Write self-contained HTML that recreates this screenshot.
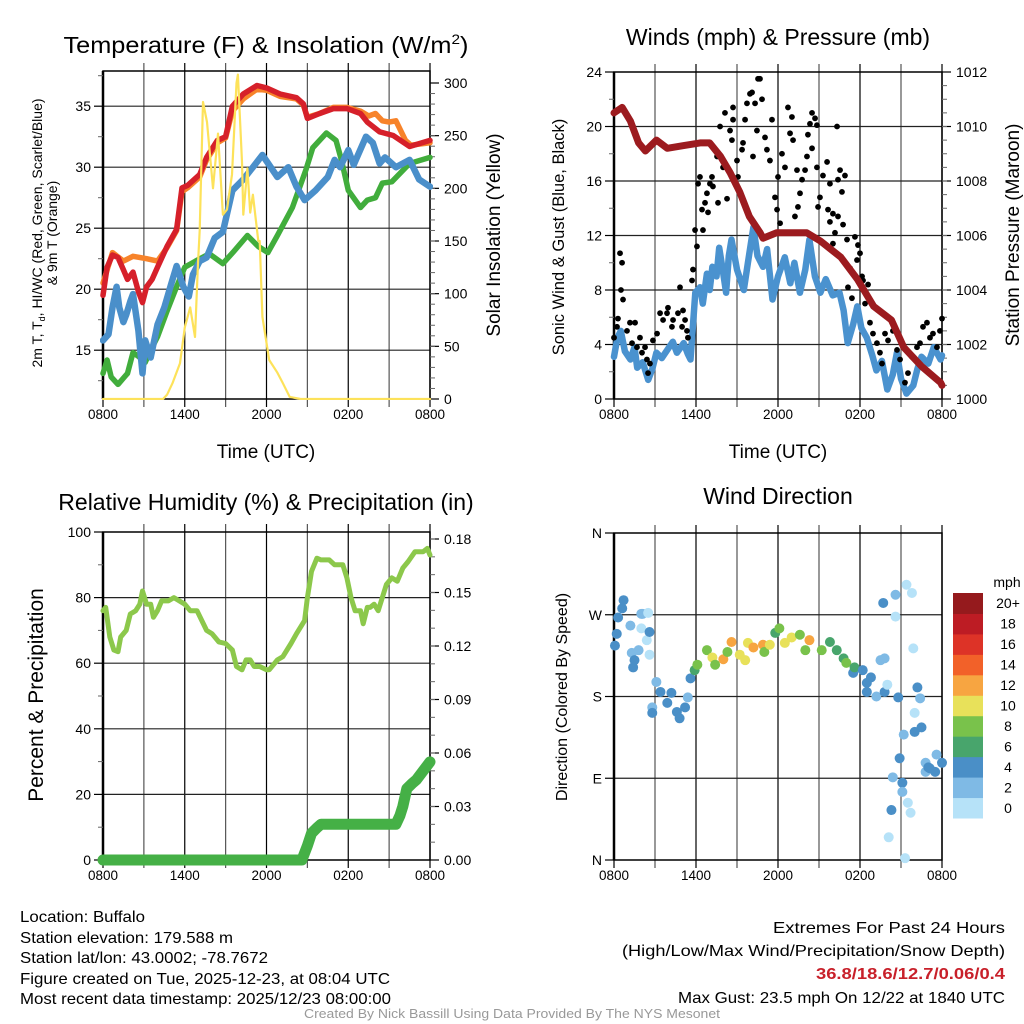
<!DOCTYPE html>
<html><head><meta charset="utf-8"><style>
html,body{margin:0;padding:0;background:#fff;}
svg{display:block;font-family:"Liberation Sans",sans-serif;}
.n{font-family:"Liberation Sans Narrow","Liberation Sans",sans-serif;}
</style></head><body>
<svg id="fig" width="1024" height="1024" viewBox="0 0 1024 1024" xmlns="http://www.w3.org/2000/svg">
<rect width="1024" height="1024" fill="#fff"/>
<g id="p1"></g>
<g id="p2"></g>
<g id="p3"></g>
<g id="p4"></g>
<text x="266" y="53" font-size="23" text-anchor="middle" textLength="405" lengthAdjust="spacingAndGlyphs">Temperature (F) &amp; Insolation (W/m<tspan font-size="14" dy="-9">2</tspan><tspan dy="9">)</tspan></text>
<text x="778" y="45" font-size="23" text-anchor="middle">Winds (mph) &amp; Pressure (mb)</text>
<text x="266" y="510" font-size="23" text-anchor="middle">Relative Humidity (%) &amp; Precipitation (in)</text>
<text x="778" y="504" font-size="23" text-anchor="middle">Wind Direction</text>
<text x="266" y="458" font-size="19" text-anchor="middle">Time (UTC)</text>
<text x="778" y="458" font-size="19" text-anchor="middle">Time (UTC)</text>
<text font-size="14" text-anchor="middle" transform="translate(42,233) rotate(-90)">2m T, T<tspan font-size="9" dy="3">d</tspan><tspan dy="-3">, HI/WC (Red, Green, Scarlet/Blue)</tspan></text>
<text font-size="14" text-anchor="middle" transform="translate(57,233) rotate(-90)">&amp; 9m T (Orange)</text>
<text font-size="19" text-anchor="middle" transform="translate(500,235) rotate(-90)">Solar Insolation (Yellow)</text>
<text font-size="16.5" text-anchor="middle" transform="translate(564,237) rotate(-90)">Sonic Wind &amp; Gust (Blue, Black)</text>
<text font-size="19" text-anchor="middle" transform="translate(1019,235) rotate(-90)">Station Pressure (Maroon)</text>
<text font-size="21" text-anchor="middle" transform="translate(43,695) rotate(-90)">Percent &amp; Precipitation</text>
<text font-size="16" text-anchor="middle" transform="translate(567,697) rotate(-90)">Direction (Colored By Speed)</text>
<g class="n" font-size="16">
<text x="20" y="922" textLength="125" lengthAdjust="spacingAndGlyphs">Location: Buffalo</text>
<text x="20" y="943" textLength="213" lengthAdjust="spacingAndGlyphs">Station elevation: 179.588 m</text>
<text x="20" y="963" textLength="248" lengthAdjust="spacingAndGlyphs">Station lat/lon: 43.0002; -78.7672</text>
<text x="20" y="984" textLength="370" lengthAdjust="spacingAndGlyphs">Figure created on Tue, 2025-12-23, at 08:04 UTC</text>
<text x="20" y="1004" textLength="371" lengthAdjust="spacingAndGlyphs">Most recent data timestamp: 2025/12/23 08:00:00</text>
<text x="773" y="933" textLength="232" lengthAdjust="spacingAndGlyphs">Extremes For Past 24 Hours</text>
<text x="622" y="956" textLength="383" lengthAdjust="spacingAndGlyphs">(High/Low/Max Wind/Precipitation/Snow Depth)</text>
<text x="816" y="979" textLength="189" lengthAdjust="spacingAndGlyphs" fill="#c8202a" font-weight="bold">36.8/18.6/12.7/0.06/0.4</text>
<text x="678" y="1003" textLength="327" lengthAdjust="spacingAndGlyphs">Max Gust: 23.5 mph On 12/22 at 1840 UTC</text>
</g>
<text class="n" x="304" y="1018" font-size="13" fill="#999" textLength="416" lengthAdjust="spacingAndGlyphs">Created By Nick Bassill Using Data Provided By The NYS Mesonet</text>
</svg>
<script>
// ---------- data ----------
const xTickLabels = ["0800","1400","2000","0200","0800"];
const tempRedT = [0,0.3,0.7,1.1,1.5,1.8,2.2,2.6,2.9,3.2,3.6,4.0,4.7,5.4,5.8,6.2,7.1,7.6,8.4,9.0,9.5,10.3,11.3,12.0,13.0,14.2,14.7,15.0,15.9,16.9,17.9,18.9,19.4,20.3,21.3,22.5,24];
const tempRedV = [19.5,21.8,22.8,22.6,21.6,20.8,21.4,19.8,18.9,20.2,20.8,21.8,23.5,24.9,28.3,28.5,29.4,30.8,32.2,32.5,35.0,36.0,36.7,36.5,36.0,35.7,35.2,34.0,34.4,34.8,34.8,34.4,33.7,32.9,32.6,31.7,32.2];
const tempOrangeT = [0,0.7,1.5,2.2,3.2,4.0,4.7,5.4,5.8,6.2,7.1,7.6,8.4,9.0,9.5,10.3,11.3,12.0,13.0,14.2,14.7,15.0,15.9,16.9,17.9,18.9,19.5,20.0,20.5,21.0,21.5,22.2,22.6,24];
const tempOrangeV = [20.5,23.0,22.3,22.7,22.5,22.3,23.4,24.8,28.0,28.3,29.2,30.6,32.0,32.4,34.6,35.6,36.4,36.3,35.8,35.6,35.1,34.1,34.4,34.9,34.9,34.6,34.2,34.4,33.8,33.7,33.8,32.2,31.8,32.0];
const tempBlueT = [0,0.4,0.7,1.0,1.2,1.5,1.7,2.0,2.2,2.6,2.9,3.1,3.5,4.0,4.5,5.0,5.4,5.9,6.3,6.6,7.1,7.6,8.2,8.8,9.5,10.3,11.0,11.7,12.8,13.6,14.2,14.8,15.6,16.5,17.0,17.4,18.0,18.4,19.3,19.8,20.3,20.7,21.5,22.5,23.2,24];
const tempBlueV = [15.8,16.3,18.5,20.2,18.5,17.3,17.9,19.0,19.6,16.6,13.1,15.8,14.4,17.1,18.5,20.4,21.9,20.2,19.4,21.2,22.3,22.6,24.2,24.7,28.1,29.0,30.0,31.0,29.2,30.0,28.4,27.3,28.1,29.2,30.6,30.0,31.4,30.2,32.5,32.0,30.3,30.8,30.0,30.6,29.0,28.4];
const tempGreenT = [0,0.3,0.6,1.1,1.8,2.2,2.6,3.1,3.5,4.0,4.7,5.4,6.0,6.8,7.8,8.8,9.6,10.6,11.4,12.1,12.8,13.9,14.9,15.4,16.4,17.1,17.5,18.0,18.9,19.4,20.0,20.5,21.2,22.5,24];
const tempGreenV = [13.1,14.2,12.8,12.2,13.1,14.8,14.5,14.0,15.0,16.1,18.2,20.2,21.8,22.3,22.9,22.1,23.1,24.4,23.5,23.0,24.4,26.7,29.8,31.6,32.8,32.2,30.6,28.1,26.7,27.3,27.5,28.7,28.8,30.3,30.8];
const solarT = [0,4.4,4.7,5.1,5.65,6.0,6.4,6.75,6.97,7.1,7.34,7.63,8.07,8.44,8.8,9.1,9.47,9.8,9.9,10.2,10.3,10.6,10.8,11.0,11.4,11.5,11.7,12.2,12.8,13.2,13.7,14.5,24];
const solarV = [0,0,4,15,34,68,87,59,129,160,282,263,200,252,175,180,213,300,308,225,175,219,177,194,150,150,78,37,25,15,2,0,0];
const windT = [0,0.25,0.5,0.8,1.2,1.5,1.7,2.1,2.5,2.8,3.1,3.5,3.9,4.3,4.6,5.1,5.4,5.6,5.95,6.3,6.5,6.8,7.0,7.2,7.5,7.7,8.0,8.2,8.4,8.6,9.0,9.5,9.8,10.2,10.5,10.9,11.2,11.6,12.0,12.5,12.9,13.2,13.6,14.0,14.3,14.7,15.1,15.5,16.0,16.5,16.8,17.1,17.5,17.8,18.1,18.5,18.9,19.2,19.6,20.0,20.4,20.7,21.0,21.4,21.9,22.2,22.5,23.0,23.4,23.9,24];
const windV = [3.1,4.5,5.0,3.5,2.9,3.8,2.3,2.7,1.4,2.2,3.4,3.0,3.6,4.2,3.4,4.1,3.3,2.9,7.8,8.2,7.0,9.2,8.0,9.7,9.0,11.1,9.2,7.8,10.5,11.7,9.5,8.0,10.0,12.6,10.5,9.7,11.0,7.3,9.0,10.4,8.5,10.0,7.8,9.5,11.7,9.0,7.8,8.8,7.6,7.8,6.5,4.1,5.5,6.8,5.2,4.5,3.2,2.1,2.8,0.7,1.8,3.4,1.5,0.4,1.0,2.2,3.1,2.6,3.8,2.9,3.2];
const pressT = [0,0.6,1.2,1.8,2.3,3.1,3.9,5.1,6.3,7.0,7.8,8.5,9.2,9.9,10.7,10.9,11.9,14.1,15.1,16.6,17.8,19.0,20.3,21.2,22.5,23.9,24];
const pressV = [1010.5,1010.7,1010.2,1009.4,1009.1,1009.5,1009.2,1009.3,1009.4,1009.4,1008.9,1008.3,1007.6,1006.7,1006.1,1005.9,1006.1,1006.1,1005.8,1005.2,1004.4,1003.4,1002.9,1001.9,1001.2,1000.6,1000.5];
const gustT = [0,0.22,0.29,0.44,0.59,0.51,0.66,0.95,1.17,1.32,1.54,1.68,1.9,2.05,2.27,2.41,2.49,2.63,2.85,3.15,3.37,3.59,3.88,3.95,4.24,4.32,4.68,4.83,4.98,5.05,5.2,5.34,5.41,5.71,5.78,5.93,6.07,6.15,6.29,6.44,6.51,6.66,6.8,6.88,7.02,7.17,7.24,7.61,7.54,7.76,7.98,8.12,8.27,8.49,8.63,8.71,8.71,9,9.07,9.37,9.44,9.59,9.73,9.95,10.1,10.17,10.32,10.46,10.54,10.68,10.83,11.05,11.19,11.41,11.56,11.78,11.93,12,12.15,12.29,12.51,12.73,12.88,13.02,13.1,13.24,13.39,13.46,13.61,13.76,13.98,14.12,14.19,14.34,14.49,14.49,14.71,14.85,14.85,14.93,15.07,15.29,15.59,15.66,15.8,15.8,16.02,16.02,16.17,16.32,16.39,16.39,16.54,16.68,16.76,16.9,17.05,17.12,17.27,17.41,17.63,17.78,17.85,18,18.15,18.22,18.37,18.59,18.73,18.95,19.24,19.46,19.61,19.83,20.05,20.41,20.71,20.93,21.29,21.51,21.8,22.17,22.39,22.61,22.9,23.12,23.34,23.63,24,23.85];
const gustV = [4.5,5.3,5.9,10.7,10,8,7.3,5,5.6,4.1,5.6,3.8,4.5,3.4,3.8,2.9,1.9,2.6,4.3,4.8,6.3,5.8,6.3,6.7,5.3,5.8,6.3,8.2,5.3,6.5,5.8,5,4.5,8.7,9.5,12.4,11.2,15.8,16.3,13.9,12.4,14.4,15.1,13.7,15.8,16.3,15.6,14.4,17.8,20,17,21,14.7,19.7,19,21.4,20.5,17.5,16.3,18.3,18.8,20.5,21.7,22.4,22.5,17.8,21.7,19.7,23.5,23.5,22,19.2,18.3,17.5,20.5,14.8,13.9,16.3,12.9,18,17,21.4,19.5,20.7,19,13.4,16.8,14.1,15.1,16.1,16.8,17.8,19.4,20.2,21,18.4,20.6,20.1,17,14.1,14.8,16.4,17.4,13.9,15.8,13,13.6,11.4,12.2,20,13.4,16.1,16.8,15.2,12.8,16.4,11.7,8.2,9.6,7.4,11.9,10.2,11.3,10.7,9,8.7,7,8.4,5.6,4.8,4.1,3.4,2.6,4.8,4.3,5,3.6,2.9,1.2,1.9,3.1,3.8,4.1,5.3,5.6,4.5,4.8,3.8,5.9,5];
const rhT = [0,0.2,0.5,0.8,1.1,1.3,1.7,2,2.4,2.7,2.9,3.2,3.5,3.7,4,4.3,4.8,5.2,5.6,6,6.4,6.9,7.6,8,8.5,9,9.5,9.8,10.2,10.5,10.8,11.1,11.5,12,12.2,12.8,13.2,13.8,14.2,14.8,15,15.3,15.7,16,16.6,17,17.6,17.9,18.2,18.5,18.9,19.1,19.4,19.6,19.9,20.2,20.5,20.8,21.2,21.6,22,22.4,22.9,23.5,23.8,24];
const rhV = [76,77,68,64,63.5,68,70,75,76,78,82,78,78,74,76,79,79,80,79,78,76,76,70,69,66.5,66,64,59,58,61,61,59,59,58,58,61,62,66,69,73,80,88,92,91.5,91.5,90,90,86,80,76,76,72,77,77,78,76,80,84,86,85,89,91,94,94,95,93];
const precipT = [0,14.6,15.0,15.3,15.7,16.0,21.5,21.8,22.0,22.3,22.7,23.0,23.5,24];
const precipV = [0,0,0.008,0.015,0.018,0.02,0.02,0.025,0.03,0.04,0.043,0.045,0.05,0.055];
const rhTicks = [0,20,40,60,80,100];
const precipTicks = ["0.00","0.03","0.06","0.09","0.12","0.15","0.18"];
const dirT = [0.07,0.2,0.3,0.6,0.7,1.2,1.3,1.4,1.5,1.8,2.0,2.0,2.1,2.4,2.5,2.6,2.6,2.8,2.8,3.1,3.4,3.9,4.2,4.6,4.8,5.2,5.4,5.6,5.9,6.1,6.8,7.2,7.4,8.0,8.3,8.6,9.2,9.6,9.8,10.2,10.9,11.0,11.4,11.8,12.1,12.5,13.0,13.6,14.0,14.3,15.2,15.8,16.3,16.8,17.0,17.5,17.6,18.2,18.5,18.5,18.8,19.2,19.5,19.7,19.8,19.8,20.0,20.1,20.3,20.4,20.6,20.6,20.8,20.9,21.1,21.1,21.2,21.3,21.4,21.5,21.7,21.8,21.9,22.0,22.0,22.2,22.4,22.5,22.8,22.8,23.0,23.1,23.5,23.6,24.0];
const dirV = [236,249,267,277,286,258,228,212,220,231,255,271,271,242,272,251,226,168,162,196,185,173,184,163,156,168,179,200,209,215,231,223,215,221,229,240,226,220,239,234,237,229,237,250,255,239,245,248,231,242,231,240,231,222,217,206,212,209,195,185,201,180,220,283,185,222,193,25,55,91,292,268,179,112,85,75,138,2,303,63,52,294,233,162,141,190,178,146,107,97,102,101,97,116,107];
const dirSpd = [4,4,4,4,4,2,2,4,4,2,0,2,2,0,0,4,0,2,4,2,4,4,4,4,4,4,2,4,6,8,8,10,8,12,8,12,10,10,10,12,12,8,10,6,8,10,10,8,8,12,8,6,6,6,8,4,6,4,4,4,4,2,2,4,4,2,0,0,4,2,2,0,4,4,4,2,2,0,0,0,0,0,0,0,4,4,2,4,2,2,4,4,4,2,4];
const speedBins = ["0","2","4","6","8","10","12","14","16","18","20+"];
const speedColors = ["#b6e2f8","#7fbae5","#4a8fc7","#48a56c","#79c24b","#e8e15a","#f7a541","#f26129","#dd3327","#bd1c24","#951a1d"];
const dirLabels = ["N","E","S","W","N"];

// ---------- helpers ----------
const NS="http://www.w3.org/2000/svg";
function mk(tag, attrs, parent){const e=document.createElementNS(NS,tag);for(const k in attrs)e.setAttribute(k,attrs[k]);parent.appendChild(e);return e;}
function lin(d0,d1,r0,r1){return v=>r0+(v-d0)*(r1-r0)/(d1-d0);}
function frame(g,x0,x1,yT,yB,hGrid,sy){
  const gr=mk('g',{},g);
  
  
  const sx=lin(0,24,x0,x1);
  for(let h=3;h<24;h+=3){const x=sx(h);const l=mk('line',{x1:x,x2:x,y1:yT-8,y2:yB+8,stroke:(h%6?'#555':'#000'),'stroke-width':1.2},gr);}
  hGrid.forEach(v=>{const y=sy(v);const l=mk('line',{x1:x0,x2:x1,y1:y,y2:y,stroke:'#222','stroke-width':1.2},gr);});
  const b=mk('rect',{x:x0,y:yT,width:x1-x0,height:yB-yT,fill:'none',stroke:'#000','stroke-width':1.5},g);
  
  mk('line',{x1:x0,x2:x0,y1:yT,y2:yB,stroke:'#000','stroke-width':2.5},g);
  mk('line',{x1:x0,x2:x0,y1:yT,y2:yB+8,stroke:'#000','stroke-width':1.2},g);
  mk('line',{x1:x1,x2:x1,y1:yT-8,y2:yB+8,stroke:'#000','stroke-width':1.2},g);
  xTickLabels.forEach((s,i)=>{const t=mk('text',{x:sx(i*6),y:yB+20,'font-size':13.5,'text-anchor':'middle'},g);t.textContent=s;});
  return sx;
}
function yTicks(g,x,vals,labels,sy,side,minor){
  vals.forEach((v,i)=>{const y=sy(v);mk('line',{x1:x,x2:x+(side<0?-9:9),y1:y,y2:y,stroke:'#000','stroke-width':1.2},g);
    const t=mk('text',{x:x+(side<0?-12:14),y:y+5,'font-size':14,'text-anchor':(side<0?'end':'start')},g);t.textContent=labels[i];
    });
  (minor||[]).forEach(v=>{const y=sy(v);mk('line',{x1:x,x2:x+(side<0?-5:5),y1:y,y2:y,stroke:'#666','stroke-width':1},g);});
}
function path(g,T,V,sx,sy,color,w,name){
  const d=T.map((t,i)=>(i?'L':'M')+sx(t).toFixed(1)+','+sy(V[i]).toFixed(1)).join('');
  const p=mk('path',{d:d,fill:'none',stroke:color,'stroke-width':w,'stroke-linejoin':'round','stroke-linecap':'round'},g);
  return p;
}
function range(a,b,s){const r=[];for(let v=a;v<=b+1e-9;v+=s)r.push(+v.toFixed(4));return r;}

// ---------- panel 1 ----------
(function(){
  const g=document.getElementById('p1');
  const x0=103,x1=430,yT=71,yB=399;
  const sy=lin(11,37.885,yB,yT), sr=lin(0,300,yB,83);
  const sx=frame(g,x0,x1,yT,yB,[15,20,25,30,35],sy);
  yTicks(g,x0,[15,20,25,30,35],["15","20","25","30","35"],sy,-1,[12.5,17.5,22.5,27.5,32.5,37.5]);
  yTicks(g,x1,[0,50,100,150,200,250,300],["0","50","100","150","200","250","300"],sr,1,range(10,290,10));
  const c=mk('g',{'clip-path':'url(#c1)'},g);
  const cp=mk('clipPath',{id:'c1'},g);mk('rect',{x:x0-3,y:yT-1,width:x1-x0+6,height:yB-yT+2},cp);
  path(c,tempOrangeT,tempOrangeV,sx,sy,'#f7832a',5.5,'orange-9m-temp-line');
  path(c,tempGreenT,tempGreenV,sx,sy,'#41ad3c',5.5,'green-dewpoint-line');
  path(c,tempBlueT,tempBlueV,sx,sy,'#4a8fca',6.5,'blue-windchill-line');
  path(c,tempRedT,tempRedV,sx,sy,'#d6202a',5.5,'red-2m-temp-line');
  path(c,solarT,solarV,sx,sr,'#fde25a',2.2,'yellow-insolation-line');
})();

// ---------- panel 2 ----------
(function(){
  const g=document.getElementById('p2');
  const x0=614,x1=942,yT=72,yB=399;
  const sy=lin(0,24,yB,yT), sp=lin(1000,1012,yB,yT);
  const sx=frame(g,x0,x1,yT,yB,[4,8,12,16,20],sy);
  yTicks(g,x0,[0,4,8,12,16,20,24],["0","4","8","12","16","20","24"],sy,-1,[2,6,10,14,18,22]);
  yTicks(g,x1,[1000,1002,1004,1006,1008,1010,1012],["1000","1002","1004","1006","1008","1010","1012"],sp,1,range(1000.5,1011.5,0.5));
  path(g,windT,windV,sx,sy,'#4a92cf',6.5,'sonic-wind-line');
  gustT.forEach((t,i)=>{const c=mk('circle',{cx:sx(t),cy:sy(gustV[i]),r:2.9,fill:'#000'},g);
    });
  path(g,pressT,pressV,sx,sp,'#9c1b1f',7,'pressure-line');
})();

// ---------- panel 3 ----------
(function(){
  const g=document.getElementById('p3');
  const x0=103,x1=430,yT=532,yB=860;
  const sy=lin(0,100,yB,yT), sp=lin(0,0.03,yB,806.5);
  const sx=frame(g,x0,x1,yT,yB,[20,40,60,80],sy);
  yTicks(g,x0,rhTicks,rhTicks.map(String),sy,-1,[10,30,50,70,90]);
  yTicks(g,x1,precipTicks.map(Number),precipTicks,sp,1,range(0.01,0.18,0.01));
  path(g,rhT,rhV,sx,sy,'#8cc84b',5,'relative-humidity-line');
  path(g,precipT,precipV,sx,sp,'#45b046',11,'precipitation-line');
})();

// ---------- panel 4 ----------
(function(){
  const g=document.getElementById('p4');
  const x0=614,x1=942,yT=533,yB=860;
  const sy=lin(0,360,yB,yT);
  const sx=frame(g,x0,x1,yT,yB,[90,180,270],sy);
  yTicks(g,x0,[0,90,180,270,360],dirLabels,sy,-1,[]);
  dirT.forEach((t,i)=>{const bi=Math.min(10,Math.floor(dirSpd[i]/2));
    const c=mk('circle',{cx:sx(t),cy:sy(dirV[i]),r:5,fill:speedColors[bi]},g);
    });
  const cb=mk('g',{},g);
  
  
  const bh=(818-593)/speedBins.length;
  speedBins.forEach((s,i)=>{const y=818-(i+1)*bh;
    const r=mk('rect',{x:953,y:y,width:30,height:bh+0.5,fill:speedColors[i]},cb);
    
    const t=mk('text',{x:1008,y:y+bh/2+5,'font-size':14,'text-anchor':'middle'},cb);t.textContent=s;
    });
  const u=mk('text',{x:1007,y:587,'font-size':14,'text-anchor':'middle'},cb);u.textContent='mph';
  
})();
</script>
</body></html>
